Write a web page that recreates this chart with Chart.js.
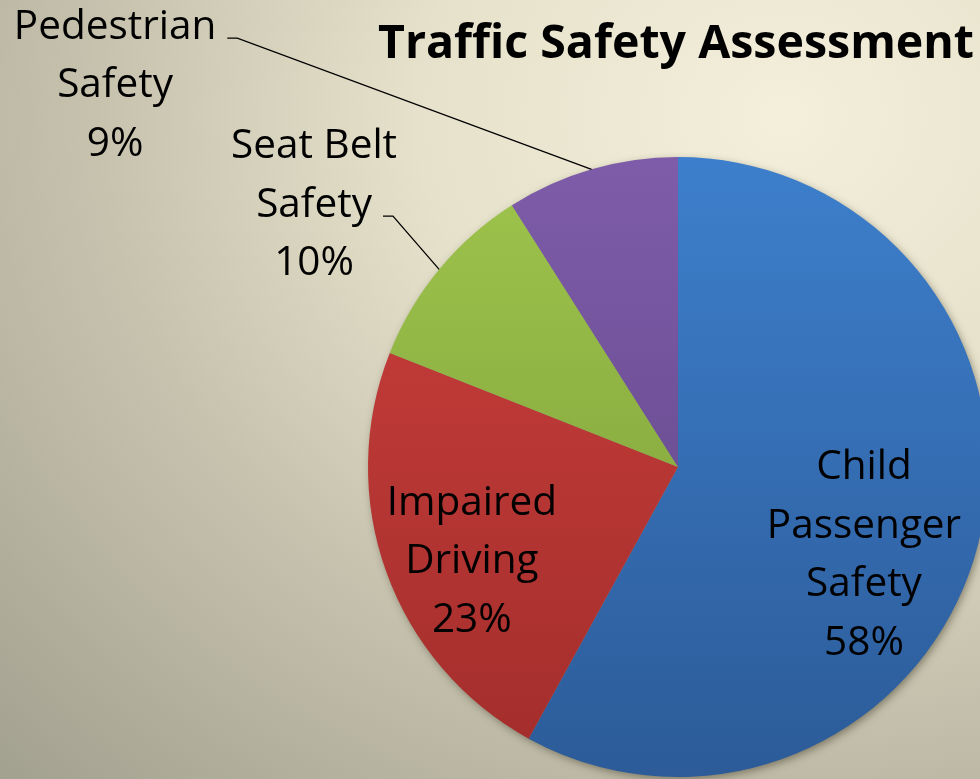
<!DOCTYPE html>
<html>
<head>
<meta charset="utf-8">
<script src="https://cdn.jsdelivr.net/npm/chart.js@4.4.0/dist/chart.umd.min.js"></script>
<style>
    html, body {
        margin: 0
        ;padding: 0
        ;overflow: hidden
    }
    body {
        width: 980px
        ;height: 779px
        ;background: radial-gradient(ellipse farthest-corner at 80% 15%, #f3efdb 0%, #e6e1ca 33%, #c6c2ae 62%, #a2a08f 100%)
    }
    #wrap {
        position: absolute
        ;left: 0
        ;top: 0
        ;width: 1000px
        ;height: 779px
    }
</style>
</head>
<body>
<div id="wrap"><canvas id="chart"></canvas></div>
<script>
// data
var categories = ["Child Passenger Safety", "Impaired Driving", "Seat Belt Safety", "Pedestrian Safety"]
var shares = [58, 23, 10, 9]
var labelLines = [
    ["Child", "Passenger", "Safety", "58%"],
    ["Impaired", "Driving", "23%"],
    ["Seat Belt", "Safety", "10%"],
    ["Pedestrian", "Safety", "9%"]
]
var titleText = "Traffic Safety Assessment"

var topColours = ["#3d7fcc", "#cc403d", "#9ec54c", "#7e5ca9"]
var bottomColours = ["#2c5b98", "#a22d2b", "#7a9838", "#5d4483"]

// where each label sits, in pie radii from the centre; outside ones get a leader off one of their lines
var labelSpots = [
    {dx: 0.60, dy: 0.285, leader: -1},
    {dx: -0.665, dy: 0.305, leader: -1},
    {dx: -1.174, dy: -0.845, leader: 1},
    {dx: -1.816, dy: -1.23, leader: 0}
]

var fontFamily = "'Open Sans', 'Noto Sans', sans-serif"
var labelSize = 40.5
var lineGap = 58.5

function sliceFill(context) {
    var chart = context.chart
    var area = chart.chartArea
    if (!area) return topColours[context.dataIndex]
    var g = chart.ctx.createLinearGradient(0, area.top, 0, area.bottom)
    g.addColorStop(0, topColours[context.dataIndex])
    g.addColorStop(1, bottomColours[context.dataIndex])
    return g
}

var pieShadow = {
    id: "pieShadow",
    beforeDatasetsDraw(chart) {
        var arc = chart.getDatasetMeta(0).data[0]
        if (!arc) return
        var ctx = chart.ctx
        ctx.save()
        ctx.shadowColor = "rgba(60, 55, 35, 0.55)"
        ctx.shadowBlur = 9
        ctx.shadowOffsetX = 2
        ctx.shadowOffsetY = 3
        ctx.fillStyle = "#888"
        ctx.beginPath()
        ctx.arc(arc.x, arc.y, arc.outerRadius - 1, 0, Math.PI * 2)
        ctx.fill()
        ctx.restore()
    }
}

var pieText = {
    id: "pieText",
    afterDraw(chart) {
        var ctx = chart.ctx
        var arcs = chart.getDatasetMeta(0).data
        var cx = arcs[0].x
        var cy = arcs[0].y
        var r = arcs[0].outerRadius

        ctx.save()
        ctx.fillStyle = "#000"
        ctx.textAlign = "center"
        ctx.textBaseline = "middle"

        // title
        ctx.font = "bold 46.5px " + fontFamily
        ctx.fillText(titleText, cx - 2, 45)

        ctx.font = labelSize + "px " + fontFamily
        for (var i = 0; i < arcs.length; i++) {
            var spot = labelSpots[i]
            var lines = labelLines[i]
            var lx = cx + spot.dx * r
            var ly = cy + spot.dy * r
            var y0 = ly - (lines.length - 1) * lineGap / 2
            for (var k = 0; k < lines.length; k++) {
                ctx.fillText(lines[k], lx, y0 + k * lineGap)
            }
            if (spot.leader >= 0) {
                // leader from the end of a line to the slice's mid point on the rim
                var w = ctx.measureText(lines[spot.leader]).width
                var sx = lx + w / 2 + 11
                var sy = y0 + spot.leader * lineGap + 11
                var mid = (arcs[i].startAngle + arcs[i].endAngle) / 2
                var ex = cx + Math.cos(mid) * r
                var ey = cy + Math.sin(mid) * r
                ctx.strokeStyle = "#000"
                ctx.lineWidth = 1.3
                ctx.beginPath()
                ctx.moveTo(sx, sy)
                ctx.lineTo(sx + 10, sy)
                ctx.lineTo(ex, ey)
                ctx.stroke()
            }
        }
        ctx.restore()
    }
}

new Chart(document.getElementById("chart"), {
    type: "pie",
    data: {
        labels: categories,
        datasets: [{
            data: shares,
            backgroundColor: sliceFill,
            borderWidth: 0
        }]
    },
    options: {
        responsive: true,
        maintainAspectRatio: false,
        animation: false,
        layout: {
            padding: {left: 368, top: 157, right: 12, bottom: 2}
        },
        plugins: {
            legend: {display: false},
            title: {display: false},
            tooltip: {enabled: false}
        }
    },
    plugins: [pieShadow, pieText]
})
</script>
</body>
</html>
